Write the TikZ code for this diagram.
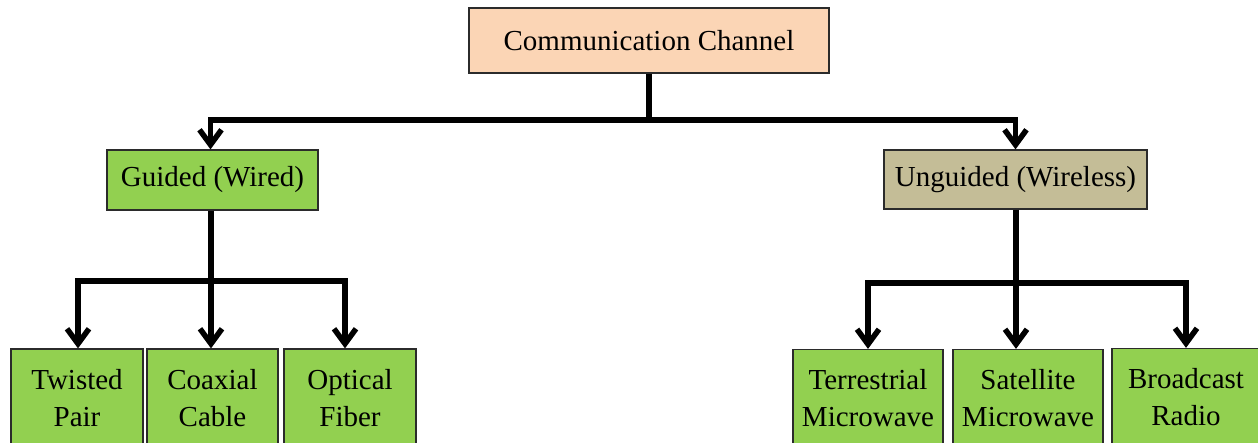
\documentclass[tikz,border=0pt]{standalone}
\usepackage{fontspec}
\setmainfont{Liberation Serif}
\usetikzlibrary{arrows.meta}
\definecolor{peach}{HTML}{FBD5B5}
\definecolor{leaf}{HTML}{92D050}
\definecolor{tan}{HTML}{C4BD97}
\definecolor{edge}{HTML}{2B2B2B}
\tikzset{
  box/.style={draw=edge, line width=1.2pt, inner sep=0pt, align=center,
    font=\fontsize{29}{37}\selectfont},
  wire/.style={line width=5.5pt, draw=black},
  feed/.style={wire, -{Straight Barb[length=15pt, width=22pt, line width=5.5pt]}}
}
\begin{document}
\begin{tikzpicture}[x=1pt, y=-1pt]
\useasboundingbox (0,0) rectangle (1258,443);
\clip (0,0) rectangle (1258,443);
\fill[white] (0,0) rectangle (1258,443);

% root and first level
\node[box, fill=peach, minimum width=360pt, minimum height=65pt] (root) at (649,40.5) {Communication Channel};
\node[box, fill=leaf, minimum width=211pt, minimum height=60pt] (guided) at (212.5,180) {Guided (Wired)};
\node[box, fill=tan, minimum width=263pt, minimum height=59pt] (unguided) at (1015.5,179.5) {Unguided (Wireless)};

% leaves
\node[box, fill=leaf, minimum width=132pt, minimum height=98pt] (twisted) at (77,398) {Twisted\\Pair};
\node[box, fill=leaf, minimum width=131pt, minimum height=98pt] (coax) at (212.5,398) {Coaxial\\Cable};
\node[box, fill=leaf, minimum width=132pt, minimum height=98pt] (optical) at (350,398) {Optical\\Fiber};
\node[box, fill=leaf, minimum width=150pt, minimum height=98pt] (terr) at (868,398.5) {Terrestrial\\Microwave};
\node[box, fill=leaf, minimum width=150pt, minimum height=98pt] (sat) at (1028,398.5) {Satellite\\Microwave};
\node[box, fill=leaf, minimum width=148pt, minimum height=98pt] (bcast) at (1186,397.5) {Broadcast\\Radio};

% bus junctions
\coordinate (j1) at (649,120);
\coordinate (j2) at (211,281);
\coordinate (j3) at (1016,283);

% root to first level
\draw[wire] (root.south) -- (j1);
\draw[feed] (j1) -| ([xshift=-2pt]guided.north);
\draw[feed] (j1) -| (unguided.north);

% guided branches
\draw[wire] (guided.south -| j2) -- (j2);
\draw[feed] (j2) -| ([xshift=1pt]twisted.north);
\draw[feed] (j2) -- (j2 |- coax.north);
\draw[feed] (j2) -| ([xshift=-5pt]optical.north);

% unguided branches
\draw[wire] (unguided.south -| j3) -- (j3);
\draw[feed] (j3) -| (terr.north);
\draw[feed] (j3) -- (j3 |- sat.north);
\draw[feed] (j3) -| (bcast.north);
\end{tikzpicture}
\end{document}
